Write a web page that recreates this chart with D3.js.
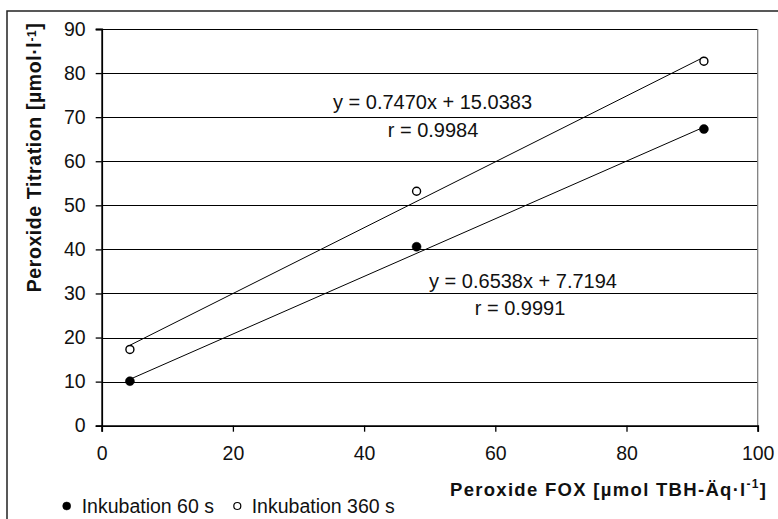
<!DOCTYPE html>
<html>
<head>
<meta charset="utf-8">
<script src="https://cdn.jsdelivr.net/npm/d3@7"></script>
<style>
  html, body { margin: 0; padding: 0; background: #fff; }
  svg { display: block; font-family: "Liberation Sans", Arial, sans-serif; }
</style>
</head>
<body>
<svg id="chart" width="778" height="519"></svg>
<script>
// ---- data ----
const foxValues = [4.3, 48.0, 91.8];
const titration60 = [10.1, 40.6, 67.3];
const titration360 = [17.3, 53.2, 82.7];
const seriesNames = ["Inkubation 60 s", "Inkubation 360 s"];
const fitSlopes = [0.6538, 0.7470];
const fitIntercepts = [7.7194, 15.0383];
const eqLabels = ["y = 0.6538x + 7.7194", "y = 0.7470x + 15.0383"];
const rLabels = ["r = 0.9991", "r = 0.9984"];
const xTicks = [0, 20, 40, 60, 80, 100];
const yTicks = [0, 10, 20, 30, 40, 50, 60, 70, 80, 90];

const svg = d3.select("#chart");

// outer frame
svg.append("rect").attr("x", 7).attr("y", 11).attr("width", 790).attr("height", 530)
  .attr("fill", "#fff").attr("stroke", "#222").attr("stroke-width", 1.5);

const x = d3.scaleLinear().domain([0, 100]).range([101.7, 757.7]);
const y = d3.scaleLinear().domain([0, 90]).range([425.7, 29]);

// gridlines
svg.append("g").selectAll("line").data(yTicks.filter(d => d > 0)).join("line")
  .attr("x1", x(0)).attr("x2", x(100))
  .attr("y1", d => Math.round(y(d)) + 0.5).attr("y2", d => Math.round(y(d)) + 0.5)
  .attr("stroke", "#000").attr("stroke-width", 1);

// right border
svg.append("line").attr("x1", x(100)).attr("x2", x(100)).attr("y1", y(90)).attr("y2", y(0))
  .attr("stroke", "#777").attr("stroke-width", 1.2);

// axes
const yAxis = d3.axisLeft(y).tickValues(yTicks).tickSize(6).tickPadding(10).tickFormat(d3.format("d"));
const gy = svg.append("g").attr("transform", `translate(${x(0)},0)`).call(yAxis);
gy.select(".domain").attr("stroke", "#000").attr("stroke-width", 1.8);
gy.selectAll(".tick line").attr("stroke", "#000").attr("stroke-width", 1.3);
gy.selectAll(".tick text").attr("font-size", 19.5).attr("fill", "#111")
  .attr("font-family", "Liberation Sans, Arial, sans-serif");

const xAxis = d3.axisBottom(x).tickValues(xTicks).tickSize(6).tickPadding(14).tickFormat(d3.format("d"));
const gx = svg.append("g").attr("transform", `translate(0,${y(0)})`).call(xAxis);
gx.select(".domain").attr("stroke", "#000").attr("stroke-width", 1.8);
gx.selectAll(".tick line").attr("stroke", "#000").attr("stroke-width", 1.3);
gx.selectAll(".tick text").attr("font-size", 19.5).attr("fill", "#111")
  .attr("font-family", "Liberation Sans, Arial, sans-serif");

// trend lines
const series = [titration60, titration360];
const xMin = d3.min(foxValues), xMax = d3.max(foxValues);
series.forEach((s, i) => {
  svg.append("line")
    .attr("x1", x(xMin)).attr("y1", y(fitSlopes[i] * xMin + fitIntercepts[i]))
    .attr("x2", x(xMax)).attr("y2", y(fitSlopes[i] * xMax + fitIntercepts[i]))
    .attr("stroke", "#000").attr("stroke-width", 1);
});

// points
series.forEach((s, i) => {
  svg.append("g").selectAll("circle").data(s).join("circle")
    .attr("cx", (d, j) => x(foxValues[j])).attr("cy", d => y(d))
    .attr("r", i === 0 ? 4.5 : 4)
    .attr("fill", i === 0 ? "#000" : "#fff")
    .attr("stroke", "#000").attr("stroke-width", i === 0 ? 0.5 : 1.4);
});

// equation labels
const eqPos = [[523, 288.3, 520, 315], [432.5, 109, 433, 136.7]];
eqPos.forEach((p, i) => {
  svg.append("text").attr("x", p[0]).attr("y", p[1]).attr("text-anchor", "middle")
    .attr("font-size", 20).attr("fill", "#111").text(eqLabels[i]);
  svg.append("text").attr("x", p[2]).attr("y", p[3]).attr("text-anchor", "middle")
    .attr("font-size", 20).attr("fill", "#111").text(rLabels[i]);
});

// y axis title
const yt = svg.append("text")
  .attr("transform", "translate(41,157.5) rotate(-90)")
  .attr("text-anchor", "middle").attr("font-size", 19.5).attr("font-weight", "bold").attr("fill", "#111")
  .attr("letter-spacing", 0.6);
yt.append("tspan").text("Peroxide Titration [µmol·l");
yt.append("tspan").attr("font-size", 12).attr("dy", -5).text("-1");
yt.append("tspan").attr("dy", 5).text("]");

// x axis title
const xt = svg.append("text")
  .attr("x", 450).attr("y", 495.7)
  .attr("font-size", 18.5).attr("font-weight", "bold").attr("fill", "#111")
  .attr("letter-spacing", 1.3);
xt.append("tspan").text("Peroxide FOX [µmol TBH-Äq·l");
xt.append("tspan").attr("font-size", 12).attr("dy", -8).text("-1");
xt.append("tspan").attr("dy", 8).text("]");

// legend
const legend = [[66.7, 81.7], [237.3, 251.7]];
legend.forEach((p, i) => {
  svg.append("circle").attr("cx", p[0]).attr("cy", 506).attr("r", i === 0 ? 4 : 3.5)
    .attr("fill", i === 0 ? "#000" : "#fff").attr("stroke", "#000").attr("stroke-width", i === 0 ? 0.5 : 1.2);
  svg.append("text").attr("x", p[1]).attr("y", 512.5).attr("font-size", 19.5).attr("fill", "#111")
    .text(seriesNames[i]);
});
</script>
</body>
</html>
